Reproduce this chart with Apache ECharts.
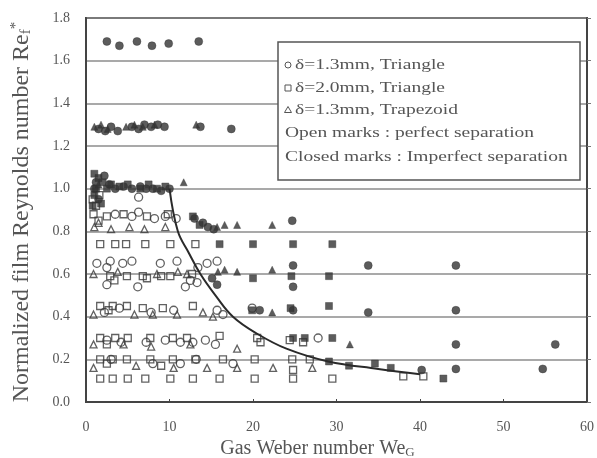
<!DOCTYPE html>
<html>
<head>
<meta charset="utf-8">
<script src="https://cdn.jsdelivr.net/npm/echarts@6/dist/echarts.min.js"></script>
<style>
  html, body { margin: 0; padding: 0; background: #fff; }
  #chart { width: 597px; height: 458px; }
</style>
</head>
<body>
<div id="chart"></div>
<script>
// Axis tick labels
const xTickLabels = ['0', '10', '20', '30', '40', '50', '60'];
const yTickLabels = ['0.0', '0.2', '0.4', '0.6', '0.8', '1.0', '1.2', '1.4', '1.6', '1.8'];

// Legend entries
const seriesNames = ['δ=1.3mm, Triangle', 'δ=2.0mm, Triangle', 'δ=1.3mm, Trapezoid'];
const noteLines = ['Open marks : perfect separation', 'Closed marks : Imperfect separation'];

// Open marks: perfect separation  [We_G, Re_f*]
const openCircle13 = [
  [3.5,0.88],[5.5,0.87],[6.3,0.89],[8.2,0.86],[9.5,0.87],[10.8,0.86],[6.3,0.96],
  [1.3,0.65],[2.9,0.66],[4.4,0.65],[5.5,0.66],[8.9,0.65],[10.9,0.66],[14.5,0.65],[15.7,0.66],[2.5,0.63],[13.4,0.63],
  [2.5,0.55],[6.2,0.54],[11.9,0.54],[13.3,0.56],[12.5,0.57],
  [2.2,0.42],[4.0,0.44],[7.8,0.42],[10.5,0.43],[15.7,0.43],[16.4,0.41],[19.9,0.44],
  [2.5,0.29],[4.2,0.28],[7.2,0.28],[9.5,0.29],[11.3,0.28],[12.8,0.28],[14.3,0.29],[15.5,0.27],[27.8,0.30],
  [3.0,0.20],[8.0,0.18],[11.3,0.18],[17.6,0.18],[13.2,0.20]
];
const openSquare20 = [
  [0.8,0.95],[1.2,0.92],[1.6,0.97],[0.9,0.88],
  [2.5,0.87],[4.5,0.88],[7.3,0.87],[1.5,0.85],[9.8,0.88],
  [1.7,0.74],[3.5,0.74],[4.8,0.74],[7.1,0.74],[10.1,0.74],[13.1,0.74],
  [2.9,0.59],[4.9,0.59],[6.8,0.59],[10.1,0.59],[12.7,0.60],[3.4,0.57],[7.3,0.58],[9.0,0.59],
  [1.7,0.45],[3.2,0.45],[4.9,0.45],[6.8,0.44],[9.2,0.44],[12.8,0.45],[2.7,0.43],
  [1.7,0.30],[3.5,0.30],[5.0,0.30],[7.7,0.30],[10.4,0.30],[12.1,0.30],[16.0,0.31],[20.5,0.30],[24.4,0.29],[2.5,0.27],[20.9,0.28],[26.0,0.28],
  [1.7,0.20],[3.2,0.20],[4.9,0.20],[7.7,0.20],[10.4,0.20],[13.1,0.20],[16.4,0.20],[20.2,0.20],[24.7,0.20],[26.8,0.20],[2.5,0.18],[9.0,0.17],
  [1.7,0.11],[3.2,0.11],[5.0,0.11],[7.1,0.11],[10.1,0.11],[12.8,0.11],[16.0,0.11],[20.2,0.11],[24.8,0.11],[24.8,0.15],[29.5,0.11],[38.0,0.12],[40.4,0.12]
];
const openTriangle13 = [
  [1.0,0.82],[3.0,0.81],[5.2,0.82],[7.0,0.81],[9.5,0.82],[1.5,0.84],
  [0.9,0.60],[3.8,0.61],[8.5,0.60],[12.1,0.60],[11.0,0.61],
  [0.9,0.41],[5.8,0.41],[10.9,0.41],[14.0,0.42],[15.2,0.40],[8.0,0.41],
  [0.9,0.27],[4.5,0.27],[7.8,0.26],[18.1,0.25],[12.5,0.27],
  [0.9,0.16],[6.0,0.17],[14.5,0.16],[18.1,0.16],[22.4,0.16],[27.1,0.16],[10.5,0.16]
];

// Closed marks: imperfect separation
const closedCircle = [
  [2.5,1.69],[4.0,1.67],[6.1,1.69],[7.9,1.67],[9.9,1.68],[13.5,1.69],
  [1.5,1.28],[2.3,1.27],[3.0,1.29],[3.8,1.27],[5.5,1.29],[6.3,1.28],[7.0,1.30],[7.8,1.29],[8.6,1.30],[9.4,1.29],[13.7,1.29],[17.4,1.28],
  [1.2,1.03],[2.2,1.06],[1.0,1.00],[2.8,1.02],[3.5,1.00],[4.5,1.01],[5.5,1.00],[6.5,1.01],[7.2,1.00],[8.0,1.00],[9.0,0.99],[10.0,1.00],[1.5,0.95],
  [13.0,0.86],[14.0,0.84],[14.6,0.82],[15.3,0.81],[24.7,0.85],
  [15.1,0.58],[15.7,0.55],[24.8,0.64],[24.8,0.54],[33.8,0.64],[44.3,0.64],
  [20.8,0.43],[24.8,0.43],[33.8,0.42],[44.3,0.43],
  [44.3,0.27],[56.2,0.27],[40.2,0.15],[44.3,0.155],[54.7,0.155]
];
const closedSquare = [
  [1.0,1.07],[1.5,1.05],[2.0,1.03],[1.2,1.00],[2.5,1.00],[1.0,0.97],[1.8,0.93],[0.8,0.92],
  [3.0,1.02],[4.0,1.01],[5.0,1.02],[6.5,1.00],[7.5,1.02],[8.5,1.00],[9.5,1.01],
  [12.8,0.87],[13.6,0.83],
  [16.0,0.74],[20.0,0.74],[24.8,0.74],[29.5,0.74],
  [20.0,0.58],[24.6,0.59],[29.1,0.59],
  [19.9,0.43],[24.5,0.44],[29.1,0.45],
  [24.8,0.30],[26.2,0.30],[29.5,0.30],
  [29.1,0.19],[31.5,0.17],[34.6,0.18],[36.5,0.16],[42.8,0.11]
];
const closedTriangle = [
  [1.0,1.29],[1.8,1.30],[2.6,1.28],[4.8,1.29],[5.8,1.30],[6.8,1.29],[8.2,1.30],[13.2,1.30],
  [11.7,1.03],[1.5,1.02],
  [15.7,0.82],[16.6,0.83],[18.1,0.83],[22.3,0.83],
  [15.8,0.61],[16.6,0.62],[18.1,0.61],[22.3,0.62],
  [22.3,0.42],[31.6,0.27]
];

// Separation boundary curve
const boundaryCurve = [
  [10,1.0],[11,0.8],[12.3,0.7],[13.7,0.6],[15.5,0.5],[17.6,0.4],[20.5,0.32],[24,0.25],[29,0.19],[35,0.155],[40,0.13]
];

const ink = '#3a3a3a';
const textColor = '#555';
const serif = '"Liberation Serif", "DejaVu Serif", serif';

function openSeries(name, symbol, data, size) {
  return {
    name, type: 'scatter', data, symbol, symbolSize: size,
    itemStyle: { color: 'rgba(255,255,255,0)', borderColor: ink, borderWidth: 1.3 },
    z: 3
  };
}
function closedSeries(name, symbol, data, size) {
  return {
    name, type: 'scatter', data, symbol, symbolSize: size,
    itemStyle: { color: '#333', borderColor: '#333', borderWidth: 0.5 },
    z: 4
  };
}

// Legend box: key marks plus wide serif text lines
const legendX = 278, legendY = 42, legendW = 302, legendH = 138;
const rowY = [65, 88, 110, 133, 157];
const wide = 1.3;
function legendText(str, x, y) {
  return {
    type: 'text', z: 120, x, y, scaleX: wide, scaleY: 1,
    style: { text: str, x: 0, y: 0, font: '15px ' + serif, fill: textColor, verticalAlign: 'middle', align: 'left' }
  };
}
const keyStyle = { fill: 'none', stroke: '#555', lineWidth: 1 };
const legendGraphics = [
  { type: 'rect', z: 100, shape: { x: legendX, y: legendY, width: legendW, height: legendH },
    style: { fill: '#fff', stroke: '#555', lineWidth: 1.5 } },
  { type: 'circle', z: 120, shape: { cx: 288, cy: rowY[0], r: 3 }, style: keyStyle },
  { type: 'rect', z: 120, shape: { x: 285, y: rowY[1] - 3, width: 6, height: 6 }, style: keyStyle },
  { type: 'polygon', z: 120, shape: { points: [[288, rowY[2] - 3.5], [291.5, rowY[2] + 2.5], [284.5, rowY[2] + 2.5]] }, style: keyStyle },
  legendText(seriesNames[0], 295, rowY[0]),
  legendText(seriesNames[1], 295, rowY[1]),
  legendText(seriesNames[2], 295, rowY[2]),
  legendText(noteLines[0], 285, rowY[3]),
  legendText(noteLines[1], 285, rowY[4])
];

const chart = echarts.init(document.getElementById('chart'));
chart.setOption({
  animation: false,
  backgroundColor: '#fff',
  grid: {
    left: 86, right: 10, top: 18, bottom: 56,
    outerBoundsMode: 'none',
    show: true, borderColor: '#444', borderWidth: 2
  },
  xAxis: {
    type: 'value', min: 0, max: 60, interval: 10,
    name: 'Gas Weber number We{sub|G}',
    nameLocation: 'middle', nameGap: 34,
    nameTextStyle: {
      fontFamily: serif, fontSize: 20, color: textColor, padding: [0, 38, 0, 0],
      rich: { sub: { fontFamily: serif, fontSize: 13, color: textColor, verticalAlign: 'bottom', padding: [8, 0, 0, 0] } }
    },
    axisLine: { show: true, lineStyle: { color: '#444', width: 2 } },
    axisTick: { show: true, inside: true, length: 3, lineStyle: { color: '#444' } },
    axisLabel: {
      fontFamily: serif, fontSize: 14, color: textColor, margin: 18,
      formatter: v => xTickLabels[Math.round(v / 10)]
    },
    splitLine: { show: false }
  },
  yAxis: [{
    type: 'value', min: 0, max: 1.8, interval: 0.2,
    name: 'Normalized film Reynolds number Re{sub|f}{sup|*}',
    nameLocation: 'middle', nameGap: 52, nameRotate: 90,
    nameTextStyle: {
      fontFamily: serif, fontSize: 24, color: textColor, padding: [0, 4, 0, 0],
      rich: {
        sub: { fontFamily: serif, fontSize: 15, color: textColor, verticalAlign: 'bottom', padding: [10, 0, 0, 0] },
        sup: { fontFamily: serif, fontSize: 15, color: textColor, verticalAlign: 'top', padding: [0, 0, 10, 0] }
      }
    },
    axisLine: { show: true, lineStyle: { color: '#444', width: 2 } },
    axisTick: { show: false },
    axisLabel: {
      fontFamily: serif, fontSize: 14, color: textColor, margin: 16,
      formatter: v => yTickLabels[Math.round(v / 0.2)]
    },
    splitLine: { show: true, lineStyle: { color: '#8c8c8c', width: 1.5 } }
  }, {
    type: 'value', min: 0, max: 1.8, interval: 0.2, position: 'right',
    axisLine: { show: true, lineStyle: { color: '#444', width: 2 } },
    axisTick: { show: true, length: 4, lineStyle: { color: '#777' } },
    axisLabel: { show: false },
    splitLine: { show: false }
  }],
  graphic: legendGraphics,
  series: [
    openSeries(seriesNames[0], 'circle', openCircle13, 8),
    openSeries(seriesNames[1], 'rect', openSquare20, 7),
    openSeries(seriesNames[2], 'triangle', openTriangle13, 7),
    closedSeries('closed circle', 'circle', closedCircle, 8),
    closedSeries('closed square', 'rect', closedSquare, 7),
    closedSeries('closed triangle', 'triangle', closedTriangle, 7),
    {
      name: 'boundary', type: 'line', data: boundaryCurve, smooth: 0.4,
      showSymbol: false, symbol: 'none',
      lineStyle: { color: '#2a2a2a', width: 2 }, z: 5
    }
  ]
});
</script>
</body>
</html>
